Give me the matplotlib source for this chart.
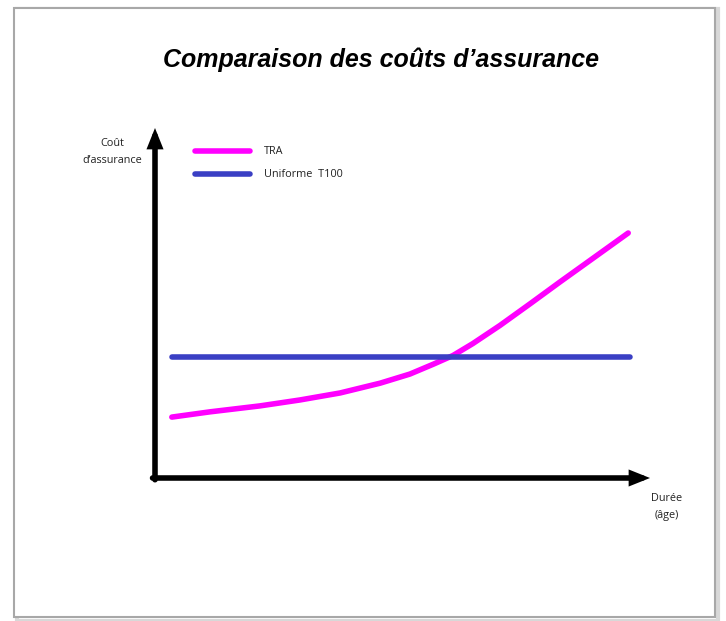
import matplotlib.pyplot as plt
import matplotlib.patches as patches

# Data (arbitrary units: age 0-100, cost 0-100)
tra_age = [3.4, 11.1, 21.2, 29.3, 37.4, 45.5, 51.5, 56.2, 60.2, 64.2, 69.7, 75.8, 81.8, 88.9, 95.6]
tra_cost = [17.4, 18.9, 20.6, 22.3, 24.3, 27.1, 29.7, 32.5, 35.0, 38.4, 43.6, 49.8, 56.0, 63.2, 70.0]
t100_age = [3.4, 96]
t100_cost = [34.6, 34.6]

series_labels = ["TRA", "Uniforme  T100"]
series_colors = ["#ff00ff", "#3a3fc4"]
title = "Comparaison des coûts d\u2019assurance"
y_label = "Coût\nd\u2019assurance"
x_label = "Durée\n(âge)"

W, H = 726, 621
fig = plt.figure(figsize=(W / 100, H / 100), dpi=100)
fig.patch.set_facecolor("white")

# page frame with a soft shadow (kept behind the axes)
fig.add_artist(patches.Rectangle((17 / W, 1 - 621 / H), 701 / W, 612 / H,
                                 transform=fig.transFigure, facecolor="none",
                                 edgecolor="#d8d8d8", linewidth=3, zorder=-3))
fig.add_artist(patches.Rectangle((14 / W, 1 - 617 / H), 701 / W, 609 / H,
                                 transform=fig.transFigure, facecolor="white",
                                 edgecolor="#a8a8a8", linewidth=1.5, zorder=-2))

# axes placed so the origin sits at the arrow corner
x0, y0, x1, y1 = 155, 478, 650, 128
ax = fig.add_axes([x0 / W, 1 - y0 / H, (x1 - x0) / W, (y0 - y1) / H])
ax.set_xlim(0, 100)
ax.set_ylim(0, 100)
ax.axis("off")

ax.plot(tra_age, tra_cost, color=series_colors[0], linewidth=4,
        solid_capstyle="round", solid_joinstyle="round", label=series_labels[0])
ax.plot(t100_age, t100_cost, color=series_colors[1], linewidth=4,
        solid_capstyle="round", label=series_labels[1])

# axis arrows
arrow = dict(arrowstyle="-|>,head_length=0.8,head_width=0.32", color="black",
             linewidth=4, shrinkA=0, shrinkB=0, joinstyle="miter")
ax.annotate("", xy=(0, 1), xytext=(0, -0.005), xycoords="axes fraction",
            arrowprops=arrow, annotation_clip=False)
ax.annotate("", xy=(1, 0), xytext=(-0.005, 0), xycoords="axes fraction",
            arrowprops=arrow, annotation_clip=False)

font = ["Open Sans", "DejaVu Sans"]
fig.text(381 / W, 1 - 60 / H, title, ha="center", va="center", fontsize=18,
         fontweight="bold", fontstyle="italic", family="Liberation Sans")
fig.text(112 / W, 1 - 152 / H, y_label, ha="center", va="center", fontsize=7.8,
         family=font, linespacing=1.8, color="#222222")
fig.text(667 / W, 1 - 507 / H, x_label, ha="center", va="center", fontsize=7.8,
         family=font, linespacing=1.8, color="#222222")

leg = ax.legend(loc="upper left", bbox_to_anchor=(190 / W, 1 - 141 / H),
                bbox_transform=fig.transFigure, frameon=False, borderpad=0,
                handlelength=5.0, handletextpad=1.3, labelspacing=1.1,
                prop={"family": font, "size": 7.8})
for t in leg.get_texts():
    t.set_color("#222222")

fig.savefig("out.png", dpi=100)
